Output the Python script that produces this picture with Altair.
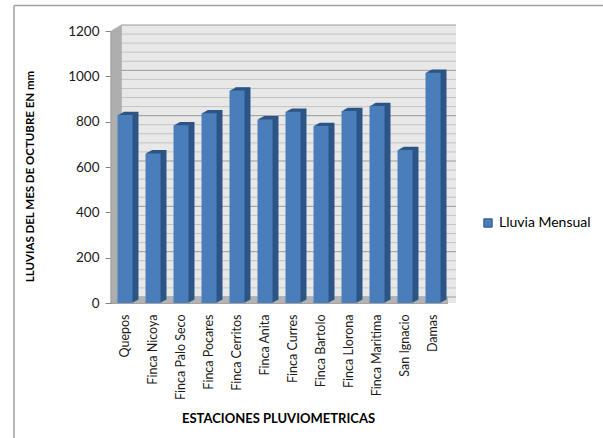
import altair as alt
import pandas as pd

# Monthly rainfall (October) by rain-gauge station, in mm
estaciones = [
    "Quepos", "Finca Nicoya", "Finca Palo Seco", "Finca Pocares",
    "Finca Cerritos", "Finca Anita", "Finca Curres", "Finca Bartolo",
    "Finca Llorona", "Finca Maritima", "San Ignacio", "Damas",
]
lluvia = [829, 660, 784, 837, 937, 810, 844, 781, 847, 869, 675, 1016]
serie = "Lluvia Mensual"

# Value axis ticks and the wall gridlines (major every 200, minor every 40)
y_ticks = [0, 200, 400, 600, 800, 1000, 1200]
grid_values = list(range(0, 1201, 40))

W, H = 336, 272
FONT = "Lato"
DEPTH = 10          # wall depth in px (x), walls also rise by 0.6 px per px
BAR_DEPTH = 6

df = pd.DataFrame({"estacion": estaciones, "mm": lluvia, "serie": serie})
grid_df = pd.DataFrame({"mm": grid_values,
                        "major": [v % 200 == 0 for v in grid_values]})
wall_df = pd.DataFrame({"mm": [1200], "mm0": [0]})
floor_df = pd.DataFrame({"mm": [0]})

yscale = alt.Scale(domain=[0, 1200], nice=False)
xscale = alt.Scale(paddingInner=0, paddingOuter=0)

yaxis = alt.Axis(values=y_ticks, format="d", grid=False,
                 title="LLUVIAS DEL MES DE OCTUBRE EN mm",
                 tickSize=6, tickColor="#868686", domainColor="#868686",
                 labelPadding=6, labelFont=FONT, labelFontSize=13.5, labelColor="#1a1a1a",
                 titleFont=FONT, titleFontSize=11.5, titleFontWeight="bold",
                 titleColor="#000000", titleAngle=270, titleX=-81, titleY=145,
                 titleAlign="center", titleBaseline="middle")
xaxis = alt.Axis(title="ESTACIONES PLUVIOMETRICAS", labelAngle=270,
                 ticks=False, domain=False, labelPadding=11,
                 labelFont=FONT, labelFontSize=12.5, labelColor="#1a1a1a",
                 titleFont=FONT, titleFontSize=13, titleFontWeight="bold",
                 titleColor="#000000", titleX=167, titleY=115,
                 titleAlign="center", titleBaseline="middle")


def Y(field="mm"):
    return alt.Y(f"{field}:Q", scale=yscale, axis=yaxis)


def X():
    return alt.X("estacion:N", sort=None, scale=xscale, axis=xaxis)


layers = []

# back wall
layers.append(
    alt.Chart(wall_df).mark_rect(color="#e8e8e8", yOffset=-6).encode(
        x=alt.value(DEPTH), x2=alt.value(W + 9), y=Y(), y2="mm0:Q")
)
# wall gridlines
layers.append(
    alt.Chart(grid_df).mark_rule(yOffset=-6, strokeWidth=1).encode(
        x=alt.value(DEPTH), x2=alt.value(W + 9), y=Y(),
        color=alt.condition("datum.major", alt.value("#9a9a9a"), alt.value("#c4c4c4")))
)
# left side wall and floor, built up as slices along the depth
for k in range(0, DEPTH + 1):
    layers.append(
        alt.Chart(wall_df).mark_rule(color="#a9a9a9", strokeWidth=1.5,
                                     xOffset=k, yOffset=-0.6 * k).encode(
            x=alt.value(0), y=Y(), y2="mm0:Q")
    )
    layers.append(
        alt.Chart(floor_df).mark_rule(color="#b3b3b3" if k else "#8c8c8c", strokeWidth=1.5,
                                      xOffset=k, yOffset=-0.6 * k).encode(
            x=alt.value(0), x2=alt.value(W + 1), y=Y())
    )

# bar sides / tops (extruded depth)
for k in range(1, BAR_DEPTH + 1):
    layers.append(
        alt.Chart(df).mark_bar(size=15, color="#2c5585" if k > 1 else "#3a69a3",
                               xOffset=k, yOffset=-0.55 * k).encode(x=X(), y=Y())
    )

# front faces of the bars, with legend
layers.append(
    alt.Chart(df).mark_bar(size=15).encode(
        x=X(), y=Y(),
        color=alt.Color("serie:N", scale=alt.Scale(range=["#4a7ebb"]),
                        legend=alt.Legend(title=None, orient="none", legendX=370, legendY=185,
                                          symbolType="square", symbolSize=70,
                                          symbolStrokeColor="#2c5585", symbolStrokeWidth=1,
                                          labelOffset=4,
                                          labelFont=FONT, labelFontSize=14,
                                          labelColor="#000000")),
    )
)

# chart frame (top and left border)
layers.append(
    alt.Chart(floor_df).mark_rule(color="#a0a0a0", strokeWidth=1.5).encode(
        x=alt.value(-97), x2=alt.value(492), y=alt.value(-25.5))
)
layers.append(
    alt.Chart(floor_df).mark_rule(color="#a0a0a0", strokeWidth=1.5).encode(
        x=alt.value(-97), y=alt.value(-25.5), y2=alt.value(420))
)

chart = alt.layer(*layers).properties(
    width=W, height=H,
    autosize=alt.AutoSizeParams(type="none"),
    padding={"left": 111, "top": 31, "right": 156, "bottom": 135},
).configure_view(stroke=None).configure(background="white")

chart.save("out.html", embed_options={"renderer": "svg", "actions": False})
